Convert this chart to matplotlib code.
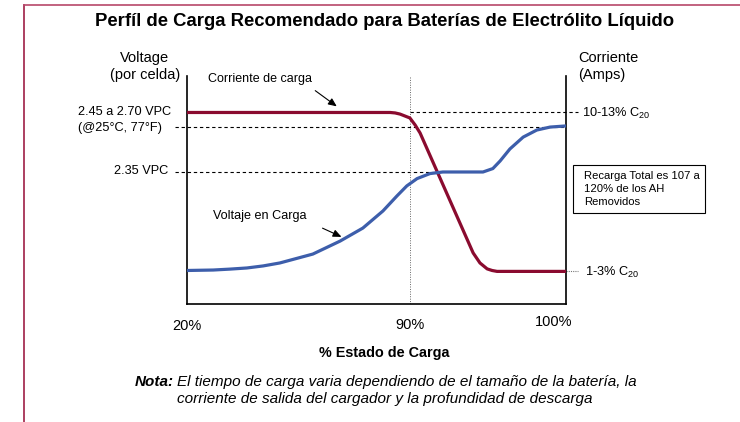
import matplotlib

matplotlib.use("Agg")
import matplotlib.pyplot as plt
from matplotlib.lines import Line2D
from matplotlib.patches import FancyArrowPatch, Rectangle

W, H = 740, 422

# curves on an abstract 0-100 scale (x: charge progress, y: level)
VOLT_X = [0, 6.9, 11.3, 15.8, 20.1, 24.5, 33.2, 40.4, 46.4, 51.7, 55.4, 58.0, 60.7,
          64.1, 67.5, 78.1, 80.7, 82.6, 85.2, 88.7, 92.3, 95.8, 100]
VOLT_Y = [14.7, 14.9, 15.3, 15.8, 16.7, 18.0, 21.9, 27.6, 33.3, 40.8, 47.4, 51.8, 55.0,
          57.2, 57.9, 57.9, 59.4, 62.7, 68.0, 73.2, 76.3, 77.6, 78.1]
CURR_X = [0, 53.6, 54.9, 56.2, 58.8, 60.2, 61.5, 75.5, 77.3, 79.2, 80.5, 81.8, 100]
CURR_Y = [84.0, 84.0, 83.8, 83.3, 81.6, 78.5, 75.0, 22.4, 18.0, 15.4, 14.7, 14.3, 14.3]

CURR_HIGH = 84.0
VOLT_HIGH = 77.6
VOLT_MID = 57.9
CURR_LOW = 14.3
MARK_90 = 58.8

X_LABELS = ["20%", "90%", "100%"]

RED = "#8a0b2f"
BLUE = "#3d5eab"
FONT = "Liberation Sans"

plt.rcParams.update({
    "font.family": FONT,
    "mathtext.fontset": "custom",
    "mathtext.rm": FONT,
})


def P(px, py):
  return px / W, 1 - py / H


fig = plt.figure(figsize=(W / 100, H / 100), dpi=100)

x0, y0 = P(187, 304)
x1, y1 = P(566, 76)
ax = fig.add_axes([x0, y0, x1 - x0, y1 - y0])
ax.set_xlim(0, 100)
ax.set_ylim(0, 100)
ax.set_xticks([])
ax.set_yticks([])
ax.spines["top"].set_visible(False)
for side in ("left", "right", "bottom"):
  ax.spines[side].set_linewidth(1.2)
  ax.spines[side].set_color("black")

dash = dict(color="black", linewidth=0.8, linestyle=(0, (3, 2.5)), clip_on=False)
ax.plot([MARK_90, 103.2], [CURR_HIGH, CURR_HIGH], **dash)
ax.plot([-3.2, 100], [VOLT_HIGH, VOLT_HIGH], **dash)
ax.plot([-3.2, 66], [VOLT_MID, VOLT_MID], **dash)
ax.plot([100, 103.2], [CURR_LOW, CURR_LOW], color="#777777", linewidth=0.8,
        linestyle=(0, (1, 1)), clip_on=False)
ax.axvline(MARK_90, color="#666666", linewidth=0.7, linestyle=(0, (1, 1.5)))

ax.plot(CURR_X, CURR_Y, color=RED, linewidth=2.3, solid_capstyle="butt",
        solid_joinstyle="round", zorder=3)
ax.plot(VOLT_X, VOLT_Y, color=BLUE, linewidth=2.3, solid_capstyle="butt",
        solid_joinstyle="round", zorder=4)

# border of the original slide
fig.add_artist(Line2D([23.5 / W, 23.5 / W], [0, 1 - 5 / H], color="#9e1f45",
                      linewidth=1.2, transform=fig.transFigure))
fig.add_artist(Line2D([23.5 / W, 1], [1 - 5 / H, 1 - 5 / H], color="#b8486a",
                      linewidth=1.2, transform=fig.transFigure))

fig.text(*P(385, 22), "Perfíl de Carga Recomendado para Baterías de Electrólito Líquido",
         ha="center", va="center", fontsize=13.3, fontweight="bold")

fs = 9.2
fs_head = 10.5
fig.text(*P(145, 58), "Voltage", ha="center", va="center", fontsize=fs_head)
fig.text(*P(145, 75), "(por celda)", ha="center", va="center", fontsize=fs_head)
fig.text(*P(578, 58), "Corriente", ha="left", va="center", fontsize=fs_head)
fig.text(*P(578, 75), "(Amps)", ha="left", va="center", fontsize=fs_head)

fig.text(*P(78, 112), "2.45 a 2.70 VPC", ha="left", va="center", fontsize=fs)
fig.text(*P(78, 128), "(@25°C, 77°F)", ha="left", va="center", fontsize=fs)
fig.text(*P(168, 171), "2.35 VPC", ha="right", va="center", fontsize=fs)
fig.text(*P(582, 113), "10-13% C$_{20}$", ha="left", va="center", fontsize=fs)
fig.text(*P(585, 272), "1-3% C$_{20}$", ha="left", va="center", fontsize=fs)

fig.text(*P(208, 79), "Corriente de carga", ha="left", va="center", fontsize=9.0)
fig.text(*P(213, 216), "Voltaje en Carga", ha="left", va="center", fontsize=9.1)

arrow = dict(arrowstyle="-|>,head_length=0.5,head_width=0.22", color="black",
             linewidth=0.8)
fig.add_artist(FancyArrowPatch(P(313, 89), P(339, 108), transform=fig.transFigure,
                               mutation_scale=10, **arrow))
fig.add_artist(FancyArrowPatch(P(320, 227), P(344, 238), transform=fig.transFigure,
                               mutation_scale=10, **arrow))

bx0, by0 = P(573, 213)
bx1, by1 = P(705, 165)
fig.add_artist(Rectangle((bx0, by0), bx1 - bx0, by1 - by0, transform=fig.transFigure,
                         facecolor="white", edgecolor="black", linewidth=0.8))
fig.text(*P(584, 189), "Recarga Total es 107 a\n120% de los AH\nRemovidos",
         ha="left", va="center", fontsize=8.1, linespacing=1.4)

for label, (px, py) in zip(X_LABELS, [(187, 326), (410, 325), (554, 322)]):
  fig.text(*P(px, py), label, ha="center", va="center", fontsize=fs_head)

fig.text(*P(384, 353), "% Estado de Carga", ha="center", va="center",
         fontsize=10.4, fontweight="bold")

fs_note = 11
fig.text(*P(174, 382), "Nota:", ha="right", va="center", fontsize=fs_note,
         fontweight="bold", fontstyle="italic")
fig.text(*P(177, 382),
         "El tiempo de carga varia dependiendo de el tamaño de la batería, la",
         ha="left", va="center", fontsize=fs_note, fontstyle="italic")
fig.text(*P(177, 399),
         "corriente de salida del cargador y la profundidad de descarga",
         ha="left", va="center", fontsize=fs_note, fontstyle="italic")

fig.savefig("out.png", dpi=100)
